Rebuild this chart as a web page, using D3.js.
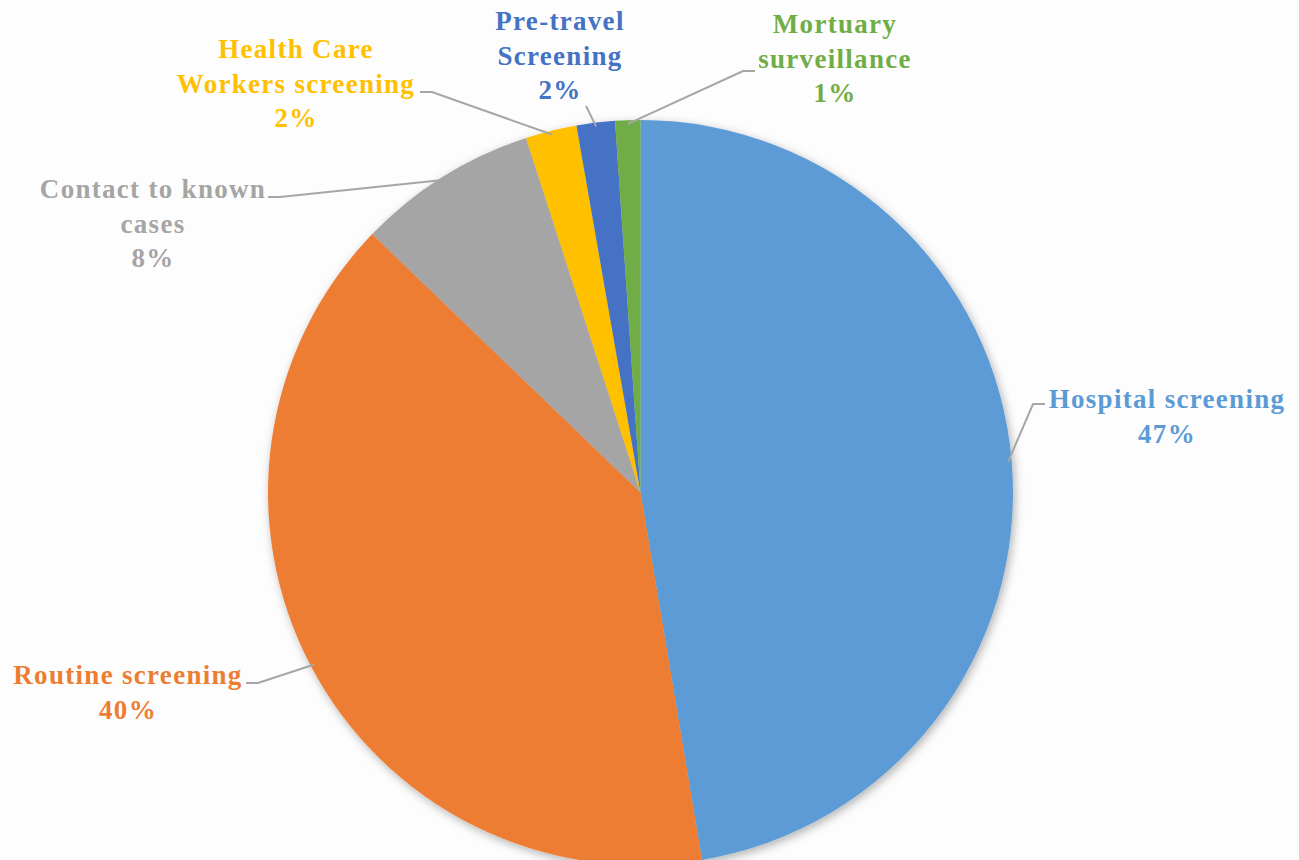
<!DOCTYPE html>
<html>
<head>
<meta charset="utf-8">
<script src="https://cdn.jsdelivr.net/npm/d3@7"></script>
<style>
  body { margin: 0; background: #fdfdfd; }
  svg text { font-family: "Liberation Serif", "Times New Roman", serif; font-weight: bold; }
</style>
</head>
<body>
<div id="viz"></div>
<script>
// Source of positive cases (share, %)
const categories = ["Hospital screening", "Routine screening", "Contact to known cases",
  "Health Care Workers screening", "Pre-travel Screening", "Mortuary surveillance"];
const values = [47.36, 39.84, 7.83, 2.22, 1.66, 1.09];
const pctLabels = ["47%", "40%", "8%", "2%", "2%", "1%"];
const labelLines = [
  ["Hospital screening"],
  ["Routine screening"],
  ["Contact to known", "cases"],
  ["Health Care", "Workers screening"],
  ["Pre-travel", "Screening"],
  ["Mortuary", "surveillance"]
];
const colors = ["#5b9bd5", "#ed7d31", "#a5a5a5", "#ffc000", "#4472c4", "#70ad47"];

const w = 1299, h = 860;
const cx = 640.5, cy = 492.5, r = 372.5;

// where each label block sits (center x, first baseline) and elbow of its leader
const labelPos = [
  {x: 1167, y: 408, elbow: [1033, 404], end: [1045, 404]},
  {x: 128, y: 684, elbow: [258, 683], end: [246, 683]},
  {x: 153, y: 198, elbow: [280, 197], end: [268, 197]},
  {x: 296, y: 58, elbow: [432, 92], end: [420, 92]},
  {x: 560, y: 30, elbow: [586, 106], end: [586, 106]},
  {x: 835, y: 33, elbow: [743, 71], end: [755, 71]}
];
const lineH = 34.5;

const svg = d3.select("#viz").append("svg")
  .attr("width", w).attr("height", h);

const defs = svg.append("defs");
const f = defs.append("filter").attr("id", "shadow")
  .attr("x", "-10%").attr("y", "-10%").attr("width", "120%").attr("height", "120%");
f.append("feDropShadow").attr("dx", 2).attr("dy", 3).attr("stdDeviation", 5)
  .attr("flood-color", "#000").attr("flood-opacity", 0.3);

const data = categories.map((c, i) => ({name: c, value: values[i], i: i}));

const pie = d3.pie().value(d => d.value).sort(null);
const arc = d3.arc().innerRadius(0).outerRadius(r);
const arcs = pie(data);

const g = svg.append("g").attr("transform", `translate(${cx},${cy})`);

g.append("g").attr("filter", "url(#shadow)")
  .selectAll("path")
  .data(arcs)
  .enter()
  .append("path")
  .attr("d", arc)
  .attr("fill", d => colors[d.data.i]);

// leader lines: from arc edge to elbow to label
const edge = d3.arc().innerRadius(r * 0.99).outerRadius(r * 0.99);
svg.append("g").selectAll("polyline")
  .data(arcs)
  .enter()
  .append("polyline")
  .attr("points", d => {
    const p = labelPos[d.data.i];
    const c = edge.centroid(d);
    return [[c[0] + cx, c[1] + cy], p.elbow, p.end].map(q => q.join(",")).join(" ");
  })
  .attr("fill", "none")
  .attr("stroke", "#a6a6a6")
  .attr("stroke-width", 2);

const labels = svg.append("g").selectAll("text")
  .data(arcs)
  .enter()
  .append("text")
  .attr("text-anchor", "middle")
  .attr("font-size", 27)
  .attr("letter-spacing", "1.3px")
  .attr("fill", d => colors[d.data.i]);

labels.each(function (d) {
  const p = labelPos[d.data.i];
  const lines = labelLines[d.data.i].concat([pctLabels[d.data.i]]);
  d3.select(this).selectAll("tspan")
    .data(lines)
    .enter()
    .append("tspan")
    .attr("x", p.x)
    .attr("y", (t, k) => p.y + k * lineH)
    .text(t => t);
});
</script>
</body>
</html>
